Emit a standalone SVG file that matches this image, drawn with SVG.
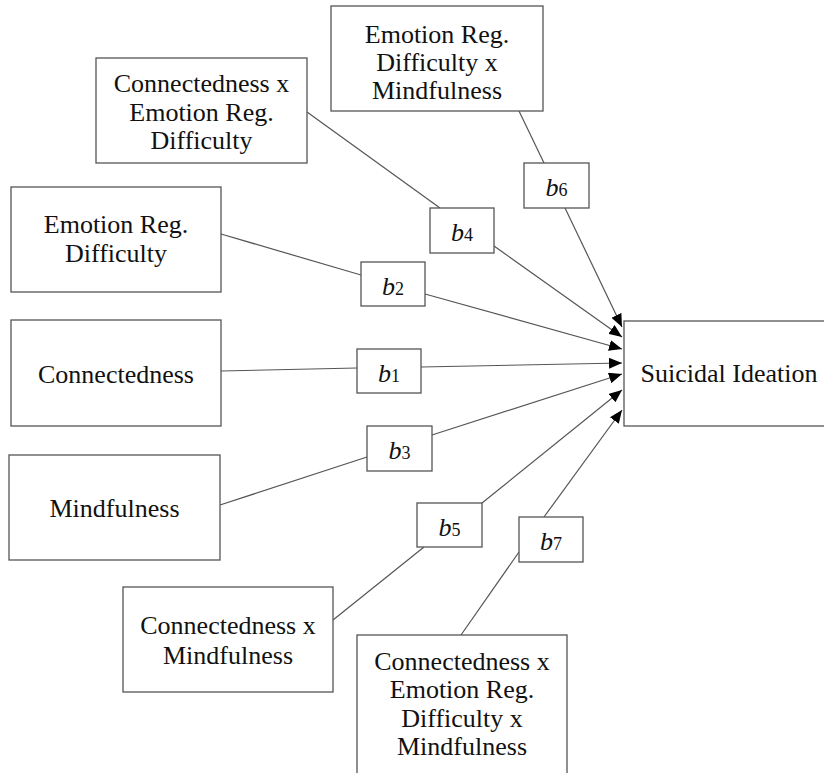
<svg xmlns="http://www.w3.org/2000/svg" width="824" height="773" viewBox="0 0 824 773">
<style>
.box{fill:#fff;stroke:#555;stroke-width:1.3}
.t{font-family:"Liberation Serif","Times New Roman",serif;font-size:26px;fill:#111;text-anchor:middle}
.edge{stroke:#555;stroke-width:1.2;fill:none}
.sub{font-size:18px;font-style:normal}
</style>
<defs>
<marker id="ah" markerUnits="userSpaceOnUse" markerWidth="13" markerHeight="11" refX="13" refY="5.5" orient="auto">
<path d="M0,0 L13,5.5 L0,11 z" fill="#000"/>
</marker>
</defs>
<rect width="824" height="773" fill="#fff"/>
<g id="connectors">
<line class="edge" x1="519" y1="111" x2="544" y2="163"/>
<line class="edge" x1="565" y1="208" x2="622" y2="327" marker-end="url(#ah)"/>
<line class="edge" x1="307" y1="112" x2="440" y2="208"/>
<line class="edge" x1="494" y1="246" x2="622" y2="337" marker-end="url(#ah)"/>
<line class="edge" x1="221" y1="234" x2="361" y2="275"/>
<line class="edge" x1="425" y1="294" x2="622" y2="349" marker-end="url(#ah)"/>
<line class="edge" x1="221" y1="371" x2="357" y2="368"/>
<line class="edge" x1="421" y1="367" x2="622" y2="363" marker-end="url(#ah)"/>
<line class="edge" x1="220" y1="505" x2="367" y2="457"/>
<line class="edge" x1="432" y1="435" x2="622" y2="374" marker-end="url(#ah)"/>
<line class="edge" x1="333" y1="620" x2="424" y2="547"/>
<line class="edge" x1="482" y1="503" x2="622" y2="390" marker-end="url(#ah)"/>
<line class="edge" x1="461" y1="635" x2="519" y2="552"/>
<line class="edge" x1="544" y1="517" x2="622" y2="410" marker-end="url(#ah)"/>
</g>
<g id="n_erd_x_m">
<rect class="box" x="331" y="6" width="212" height="105"/>
<text class="t" x="437" y="43">Emotion Reg.</text>
<text class="t" x="437" y="71">Difficulty x</text>
<text class="t" x="437" y="99">Mindfulness</text>
</g>
<g id="n_c_x_erd">
<rect class="box" x="96" y="58" width="211" height="105"/>
<text class="t" x="201.5" y="92">Connectedness x</text>
<text class="t" x="201.5" y="121">Emotion Reg.</text>
<text class="t" x="201.5" y="149">Difficulty</text>
</g>
<g id="n_erd">
<rect class="box" x="11" y="187" width="210" height="105"/>
<text class="t" x="116" y="233">Emotion Reg.</text>
<text class="t" x="116" y="262">Difficulty</text>
</g>
<g id="n_c">
<rect class="box" x="11" y="320" width="210" height="106"/>
<text class="t" x="116" y="383">Connectedness</text>
</g>
<g id="n_m">
<rect class="box" x="9" y="455" width="211" height="105"/>
<text class="t" x="114.5" y="517">Mindfulness</text>
</g>
<g id="n_c_x_m">
<rect class="box" x="123" y="587" width="210" height="105"/>
<text class="t" x="228" y="634">Connectedness x</text>
<text class="t" x="228" y="664">Mindfulness</text>
</g>
<g id="n_c_x_erd_x_m">
<rect class="box" x="357" y="635" width="210" height="150"/>
<text class="t" x="462" y="670">Connectedness x</text>
<text class="t" x="462" y="698">Emotion Reg.</text>
<text class="t" x="462" y="727">Difficulty x</text>
<text class="t" x="462" y="755">Mindfulness</text>
</g>
<g id="n_si">
<rect class="box" x="624" y="321" width="210" height="105"/>
<text class="t" x="729" y="382">Suicidal Ideation</text>
</g>
<g id="b6">
<rect class="box" x="524" y="163" width="65" height="45"/>
<text class="t" x="556.5" y="196"><tspan font-style="italic">b</tspan><tspan class="sub">6</tspan></text>
</g>
<g id="b4">
<rect class="box" x="430" y="208" width="64" height="45"/>
<text class="t" x="462" y="241"><tspan font-style="italic">b</tspan><tspan class="sub">4</tspan></text>
</g>
<g id="b2">
<rect class="box" x="361" y="262" width="64" height="44"/>
<text class="t" x="393" y="295"><tspan font-style="italic">b</tspan><tspan class="sub">2</tspan></text>
</g>
<g id="b1">
<rect class="box" x="357" y="349" width="64" height="44"/>
<text class="t" x="389" y="382"><tspan font-style="italic">b</tspan><tspan class="sub">1</tspan></text>
</g>
<g id="b3">
<rect class="box" x="367" y="426" width="65" height="45"/>
<text class="t" x="399.5" y="459"><tspan font-style="italic">b</tspan><tspan class="sub">3</tspan></text>
</g>
<g id="b5">
<rect class="box" x="417" y="503" width="65" height="44"/>
<text class="t" x="449.5" y="536"><tspan font-style="italic">b</tspan><tspan class="sub">5</tspan></text>
</g>
<g id="b7">
<rect class="box" x="519" y="517" width="64" height="45"/>
<text class="t" x="551" y="550"><tspan font-style="italic">b</tspan><tspan class="sub">7</tspan></text>
</g>
</svg>
